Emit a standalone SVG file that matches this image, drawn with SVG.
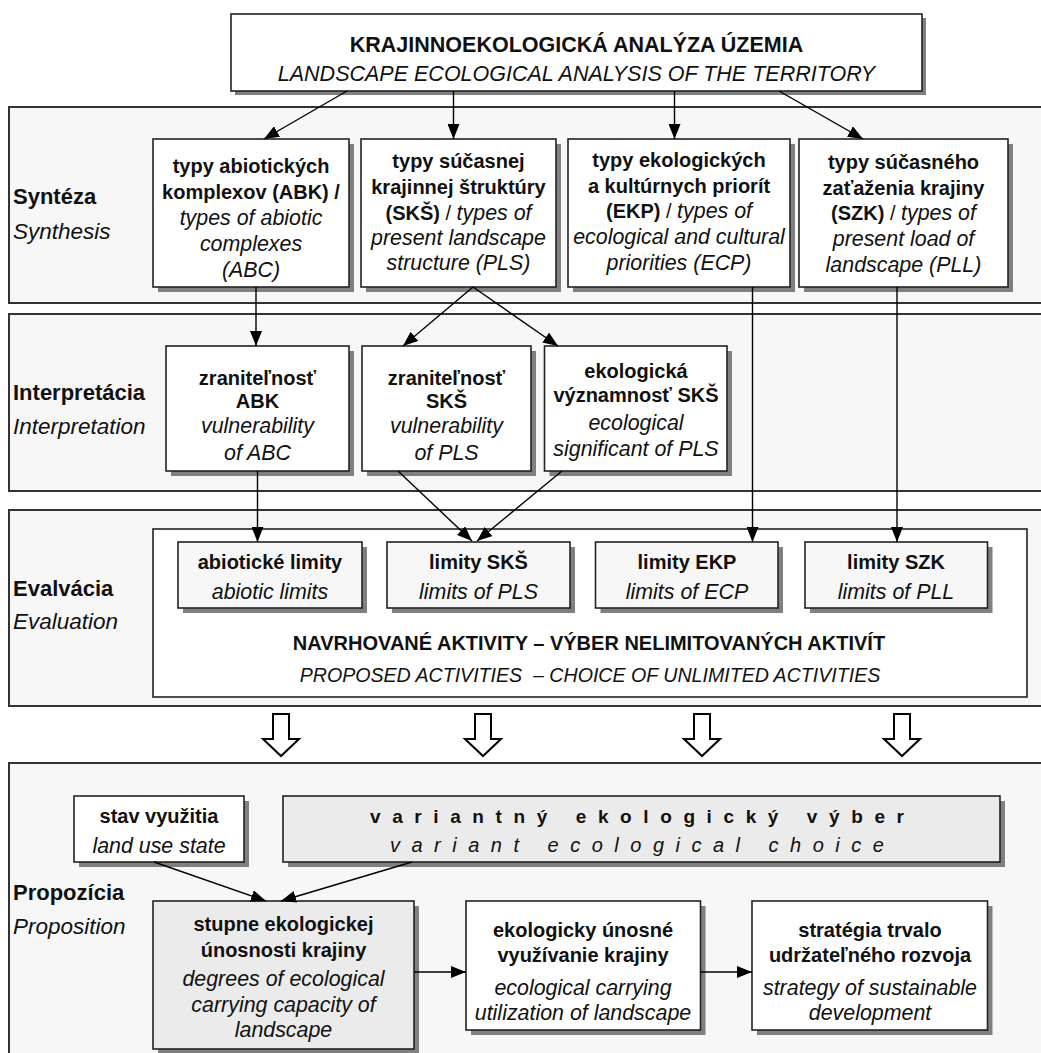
<svg xmlns="http://www.w3.org/2000/svg" width="1041" height="1053" viewBox="0 0 1041 1053">
<style>
text{font-family:"Liberation Sans",Arial,Helvetica,sans-serif;fill:#111;}
.b{font-weight:bold;font-size:20px;}
.i{font-style:italic;font-size:21.4px;}
.c{text-anchor:middle;}
.lb{font-weight:bold;font-size:22px;}
.li{font-style:italic;font-size:22.5px;}
.panel{fill:#f7f7f7;stroke:#333;stroke-width:2;}
.box{fill:#fff;stroke:#222;stroke-width:1.6;}
.gbox{fill:#ebebeb;stroke:#222;stroke-width:1.6;}
.sh{fill:#808080;}
.con{stroke:#000;stroke-width:1.4;fill:none;marker-end:url(#ah);}
.hollow{fill:#fff;stroke:#000;stroke-width:2;stroke-linejoin:miter;}
</style>
<defs>
<marker id="ah" markerUnits="userSpaceOnUse" markerWidth="15" markerHeight="12" refX="15" refY="6" orient="auto">
<path d="M0,0 L15,6 L0,12 z" fill="#000"/>
</marker>
</defs>
<rect width="1041" height="1053" fill="#fff"/>

<g id="panels">
<rect class="panel" x="9" y="107" width="1045" height="196"/>
<rect class="panel" x="9" y="314" width="1045" height="177"/>
<rect class="panel" x="9" y="510" width="1045" height="196"/>
<rect class="panel" x="9" y="763" width="1045" height="300"/>
</g>

<g id="row-labels">
<text class="lb" x="13" y="204">Syntéza</text>
<text class="li" x="13" y="239">Synthesis</text>
<text class="lb" x="13" y="400">Interpretácia</text>
<text class="li" x="13" y="434">Interpretation</text>
<text class="lb" x="13" y="596">Evalvácia</text>
<text class="li" x="13" y="629">Evaluation</text>
<text class="lb" x="13" y="900">Propozícia</text>
<text class="li" x="13" y="934">Proposition</text>
</g>

<g id="top">
<rect class="sh" x="235" y="18" width="691" height="77"/>
<rect class="box" x="231" y="14" width="691" height="77"/>
<text class="c" x="576.5" y="52" style="font-weight:bold;font-size:21.5px">KRAJINNOEKOLOGICKÁ ANALÝZA ÚZEMIA</text>
<text class="c" x="576.5" y="81" style="font-style:italic;font-size:21.5px">LANDSCAPE ECOLOGICAL ANALYSIS OF THE TERRITORY</text>
</g>

<g id="syn-abk">
<rect class="sh" x="158" y="144" width="196" height="148"/>
<rect class="box" x="153" y="139" width="196" height="148"/>
<text class="b c" x="251" y="173">typy abiotických</text>
<text class="b c" x="251" y="199">komplexov (ABK) /</text>
<text class="i c" x="251" y="225">types of abiotic</text>
<text class="i c" x="251" y="251">complexes</text>
<text class="i c" x="251" y="277">(ABC)</text>
</g>
<g id="syn-sks">
<rect class="sh" x="366" y="144" width="195" height="148"/>
<rect class="box" x="361" y="139" width="195" height="148"/>
<text class="b c" x="458.5" y="168">typy súčasnej</text>
<text class="b c" x="458.5" y="194">krajinnej štruktúry</text>
<text class="c" x="458.5" y="220"><tspan class="b">(SKŠ)</tspan><tspan style="font-size:20px"> / </tspan><tspan class="i">types of</tspan></text>
<text class="i c" x="458.5" y="245">present landscape</text>
<text class="i c" x="458.5" y="270">structure (PLS)</text>
</g>
<g id="syn-ekp">
<rect class="sh" x="573" y="144" width="222" height="148"/>
<rect class="box" x="568" y="139" width="222" height="148"/>
<text class="b c" x="679" y="167">typy ekologických</text>
<text class="b c" x="679" y="193">a kultúrnych priorít</text>
<text class="c" x="679" y="218"><tspan class="b">(EKP)</tspan><tspan style="font-size:20px"> / </tspan><tspan class="i">types of</tspan></text>
<text class="i c" x="679" y="244">ecological and cultural</text>
<text class="i c" x="679" y="270">priorities (ECP)</text>
</g>
<g id="syn-szk">
<rect class="sh" x="804" y="144" width="209" height="148"/>
<rect class="box" x="799" y="139" width="209" height="148"/>
<text class="b c" x="903.5" y="169">typy súčasného</text>
<text class="b c" x="903.5" y="195">zaťaženia krajiny</text>
<text class="c" x="903.5" y="220"><tspan class="b">(SZK)</tspan><tspan style="font-size:20px"> / </tspan><tspan class="i">types of</tspan></text>
<text class="i c" x="903.5" y="246">present load of</text>
<text class="i c" x="903.5" y="272">landscape (PLL)</text>
</g>

<g id="int-abk">
<rect class="sh" x="171" y="351" width="183" height="125"/>
<rect class="box" x="166" y="346" width="183" height="125"/>
<text class="b c" x="257.5" y="385">zraniteľnosť</text>
<text class="b c" x="257.5" y="408">ABK</text>
<text class="i c" x="257.5" y="433">vulnerability</text>
<text class="i c" x="257.5" y="460">of ABC</text>
</g>
<g id="int-sks">
<rect class="sh" x="367" y="351" width="169" height="125"/>
<rect class="box" x="362" y="346" width="169" height="125"/>
<text class="b c" x="446.5" y="385">zraniteľnosť</text>
<text class="b c" x="446.5" y="408">SKŠ</text>
<text class="i c" x="446.5" y="433">vulnerability</text>
<text class="i c" x="446.5" y="460">of PLS</text>
</g>
<g id="int-vyz">
<rect class="sh" x="549.5" y="351" width="182.5" height="125"/>
<rect class="box" x="544.5" y="346" width="182.5" height="125"/>
<text class="b c" x="636" y="378">ekologická</text>
<text class="b c" x="636" y="402">významnosť SKŠ</text>
<text class="i c" x="636" y="430">ecological</text>
<text class="i c" x="636" y="456">significant of PLS</text>
</g>

<g id="eval-box">
<rect class="box" x="153" y="529" width="874" height="168"/>
<text class="b c" x="589" y="650">NAVRHOVANÉ AKTIVITY – VÝBER NELIMITOVANÝCH AKTIVÍT</text>
<text class="c" x="590" y="682" style="font-style:italic;font-size:19.6px">PROPOSED ACTIVITIES&#160; – CHOICE OF UNLIMITED ACTIVITIES</text>
</g>
<g id="lim-abk">
<rect class="sh" x="183" y="547" width="184" height="66"/>
<rect class="gbox" style="fill:#f7f7f7" x="178" y="542" width="184" height="66"/>
<text class="b c" x="270" y="569">abiotické limity</text>
<text class="i c" x="270" y="599">abiotic limits</text>
</g>
<g id="lim-sks">
<rect class="sh" x="392" y="547" width="183" height="66"/>
<rect class="gbox" style="fill:#f7f7f7" x="387" y="542" width="183" height="66"/>
<text class="b c" x="478.5" y="569">limity SKŠ</text>
<text class="i c" x="478.5" y="599">limits of PLS</text>
</g>
<g id="lim-ekp">
<rect class="sh" x="600.5" y="547" width="182.5" height="66"/>
<rect class="gbox" style="fill:#f7f7f7" x="595.5" y="542" width="182.5" height="66"/>
<text class="b c" x="687" y="569">limity EKP</text>
<text class="i c" x="687" y="599">limits of ECP</text>
</g>
<g id="lim-szk">
<rect class="sh" x="810" y="547" width="182.5" height="66"/>
<rect class="gbox" style="fill:#f7f7f7" x="805" y="542" width="182.5" height="66"/>
<text class="b c" x="896" y="569">limity SZK</text>
<text class="i c" x="896" y="599">limits of PLL</text>
</g>

<g id="hollow-arrows">
<path class="hollow" d="M273,714 H289 V739 H299 L281,756 L263,739 H273 Z"/>
<path class="hollow" d="M475,714 H491 V739 H501 L483,756 L465,739 H475 Z"/>
<path class="hollow" d="M694,714 H710 V739 H720 L702,756 L684,739 H694 Z"/>
<path class="hollow" d="M894,714 H910 V739 H920 L902,756 L884,739 H894 Z"/>
</g>

<g id="stav">
<rect class="sh" x="79" y="801" width="170" height="66"/>
<rect class="box" x="74" y="796" width="170" height="66"/>
<text class="b c" x="159" y="823">stav využitia</text>
<text class="i c" x="159" y="853">land use state</text>
</g>
<g id="variant">
<rect class="sh" x="288" y="801" width="717" height="66"/>
<rect class="gbox" x="283" y="796" width="717" height="66"/>
<text class="b" x="370" y="823" style="font-size:19px;letter-spacing:11.6px">variantný ekologický výber</text>
<text class="i" x="390" y="852" style="font-size:20px;letter-spacing:11.5px">variant ecological choice</text>
</g>
<g id="stupne">
<rect class="sh" x="158" y="906" width="261" height="148"/>
<rect class="gbox" x="153" y="901" width="261" height="148"/>
<text class="b c" x="283.5" y="931">stupne ekologickej</text>
<text class="b c" x="283.5" y="957">únosnosti krajiny</text>
<text class="i c" x="283.5" y="986">degrees of ecological</text>
<text class="i c" x="283.5" y="1012">carrying capacity of</text>
<text class="i c" x="283.5" y="1037">landscape</text>
</g>
<g id="vyuzivanie">
<rect class="sh" x="471" y="906" width="234.5" height="129"/>
<rect class="box" x="466" y="901" width="234.5" height="129"/>
<text class="b c" x="583" y="937">ekologicky únosné</text>
<text class="b c" x="583" y="962">využívanie krajiny</text>
<text class="i c" x="583" y="995">ecological carrying</text>
<text class="i c" x="583" y="1020">utilization of landscape</text>
</g>
<g id="strategia">
<rect class="sh" x="757" y="906" width="235.5" height="129"/>
<rect class="box" x="752" y="901" width="235.5" height="129"/>
<text class="b c" x="870" y="937">stratégia trvalo</text>
<text class="b c" x="870" y="962">udržateľného rozvoja</text>
<text class="i c" x="870" y="995">strategy of sustainable</text>
<text class="i c" x="870" y="1020">development</text>
</g>

<g id="connectors">
<line class="con" x1="347" y1="91" x2="264" y2="139"/>
<line class="con" x1="453.5" y1="91" x2="453.5" y2="139"/>
<line class="con" x1="674.5" y1="91" x2="674.5" y2="139"/>
<line class="con" x1="779" y1="91" x2="863" y2="139"/>
<line class="con" x1="256" y1="287" x2="256" y2="346"/>
<line class="con" x1="473" y1="287" x2="403" y2="346"/>
<line class="con" x1="473" y1="287" x2="558" y2="346"/>
<line class="con" x1="752.5" y1="287" x2="752.5" y2="542"/>
<line class="con" x1="897" y1="287" x2="897" y2="542"/>
<line class="con" x1="257.5" y1="471" x2="257.5" y2="542"/>
<line class="con" x1="398" y1="471" x2="472" y2="541"/>
<line class="con" x1="562" y1="471" x2="477" y2="541"/>
<line class="con" x1="154" y1="862" x2="266" y2="901"/>
<line class="con" x1="412" y1="862" x2="281" y2="901"/>
<line class="con" x1="414" y1="972" x2="466" y2="972"/>
<line class="con" x1="700.5" y1="972" x2="752" y2="972"/>
</g>
</svg>
